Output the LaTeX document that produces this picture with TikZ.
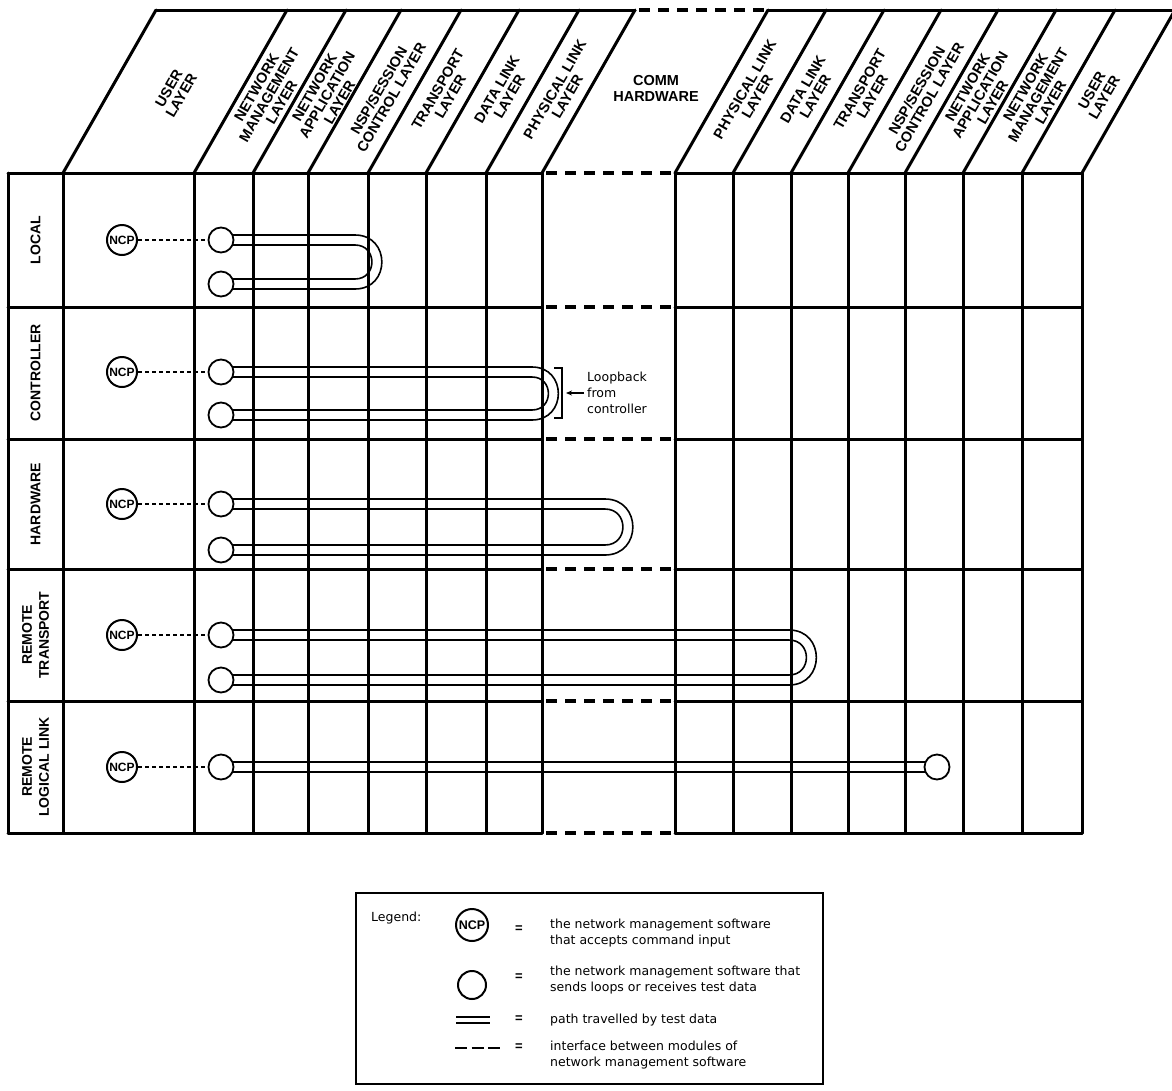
\documentclass[tikz,border=0pt]{standalone}
\usepackage{fontspec}
\setmainfont{Liberation Sans}
\newfontfamily\legfont{DejaVu Sans}
\usetikzlibrary{calc,arrows.meta}
\pgfdeclarelayer{gridlayer}
\pgfdeclarelayer{looplayer}
\pgfsetlayers{gridlayer,looplayer,main}
\tikzset{
  gridline/.style={line width=3pt, line cap=round},
  iface/.style={line width=3.5pt, dash pattern=on 11pt off 8pt, dash phase=15pt},
  loopline/.style={line width=1.6pt},
  hdr/.style={rotate=60, align=center, inner sep=0pt, font=\bfseries\fontsize{14.5}{14.5}\selectfont},
  hdrflat/.style={align=center, inner sep=0pt, font=\bfseries\fontsize{14.5}{16}\selectfont},
  rowlab/.style={rotate=90, align=center, inner sep=0pt, font=\bfseries\fontsize{14}{17}\selectfont},
  ncp/.style={circle, draw, line width=2pt, minimum size=30pt, inner sep=0pt, fill=white, font=\bfseries\fontsize{12}{12}\selectfont},
  term/.style={circle, draw, line width=1.8pt, minimum size=25pt, inner sep=0pt, fill=white},
  ncplink/.style={line width=1.5pt, dash pattern=on 4pt off 3pt},
  legtext/.style={align=left, inner sep=0pt, anchor=west, font=\legfont\fontsize{12.5}{16}\selectfont},
  eqsign/.style={inner sep=0pt, font=\bfseries\fontsize{13}{13}\selectfont},
  uturn/.style={out=0, in=0, looseness=1.7}
}
\begin{document}
\begin{tikzpicture}[x=1pt,y=-1pt]
\useasboundingbox (0,0) rectangle (1172,1090);

% ---------- grid ----------
\begin{pgfonlayer}{gridlayer}
\foreach \gx in {8,63,194,253,308,368,426,486,542,675,733,791,848,905,963,1022,1082}
  \draw[gridline] (\gx,173) -- (\gx,833);
\foreach \gy in {173,307,439,569,701,833} {
  \draw[gridline] (8,\gy) -- (542,\gy);
  \draw[iface] (542,\gy) -- (675,\gy);
  \draw[gridline] (675,\gy) -- (1082,\gy);
}
% header slants
\foreach \gx in {63,194,253,308,368,426,486,542,675,733,791,848,905,963,1022,1082}
  \draw[gridline] (\gx,173) -- ++(93,-163);
\draw[gridline] (156,10) -- (635,10);
\draw[iface] (635,10) -- (768,10);
\draw[gridline] (768,10) -- (1176,10);
\end{pgfonlayer}

% ---------- header labels ----------
\node[hdr] (hL1) at (175,92) {USER\\LAYER};
\node[hdr] (hL2) at (269,95) {NETWORK\\MANAGEMENT\\LAYER};
\node[hdr] (hL3) at (327,95) {NETWORK\\APPLICATION\\LAYER};
\node[hdr] (hL4) at (385,94) {NSP/SESSION\\CONTROL LAYER};
\node[hdr] (hL5) at (444,93) {TRANSPORT\\LAYER};
\node[hdr] (hL6) at (503,93) {DATA LINK\\LAYER};
\node[hdr] (hL7) at (561,93) {PHYSICAL LINK\\LAYER};
\node[hdrflat] (hC) at (656,88) {COMM\\HARDWARE};
\node[hdr] (hR7) at (751,93) {PHYSICAL LINK\\LAYER};
\node[hdr] (hR6) at (809,93) {DATA LINK\\LAYER};
\node[hdr] (hR5) at (866,93) {TRANSPORT\\LAYER};
\node[hdr] (hR4) at (923,94) {NSP/SESSION\\CONTROL LAYER};
\node[hdr] (hR3) at (980,95) {NETWORK\\APPLICATION\\LAYER};
\node[hdr] (hR2) at (1038,95) {NETWORK\\MANAGEMENT\\LAYER};
\node[hdr] (hR1) at (1098,94) {USER\\LAYER};

% ---------- row labels ----------
\node[rowlab] (r1) at (35.5,240) {LOCAL};
\node[rowlab] (r2) at (35.5,373) {CONTROLLER};
\node[rowlab] (r3) at (35.5,504) {HARDWARE};
\node[rowlab] (r4) at (35.5,635) {REMOTE\\TRANSPORT};
\node[rowlab] (r5) at (35.5,767) {REMOTE\\LOGICAL LINK};

% ---------- NCP and terminal circles ----------
\node[ncp] (n1) at (122,240) {NCP};
\node[ncp] (n2) at (122,372) {NCP};
\node[ncp] (n3) at (122,504) {NCP};
\node[ncp] (n4) at (122,635) {NCP};
\node[ncp] (n5) at (122,767) {NCP};

\node[term] (t1) at (221,240) {};
\node[term] (b1) at (221,284) {};
\node[term] (t2) at (221,372) {};
\node[term] (b2) at (221,415) {};
\node[term] (t3) at (221,504) {};
\node[term] (b3) at (221,550) {};
\node[term] (t4) at (221,635) {};
\node[term] (b4) at (221,680) {};
\node[term] (t5) at (221,767) {};
\node[term] (f5) at (937,767) {};

\coordinate (e1) at (355,262);
\coordinate (e2) at (532,393);
\coordinate (e3) at (605,527);
\coordinate (e4) at (789,657);

\foreach \na/\ta in {n1/t1,n2/t2,n3/t3,n4/t4,n5/t5}
  \draw[ncplink] (\na) -- (\ta);

% ---------- loops ----------
\begin{pgfonlayer}{looplayer}
\foreach \ta/\tb/\te in {t1/b1/e1,t2/b2/e2,t3/b3/e3,t4/b4/e4} {
  \draw[loopline] ($(\ta.center)+(0,-5)$) -- ($(\ta.center -| \te)+(0,-5)$)
     to[uturn] ($(\tb.center -| \te)+(0,5)$) -- ($(\tb.center)+(0,5)$);
  \draw[loopline] ($(\ta.center)+(0,5)$) -- ($(\ta.center -| \te)+(0,5)$)
     to[uturn] ($(\tb.center -| \te)+(0,-5)$) -- ($(\tb.center)+(0,-5)$);
}
\draw[loopline] ($(t5.center)+(0,-5)$) -- ($(f5.center)+(0,-5)$);
\draw[loopline] ($(t5.center)+(0,5)$) -- ($(f5.center)+(0,5)$);
\end{pgfonlayer}

% ---------- loopback annotation ----------
\coordinate (brT) at (554,368);
\coordinate (brB) at (554,418);
\draw[line width=1.4pt] (brT) -- ($(brT)+(8,0)$) -- ($(brB)+(8,0)$) -- (brB);
\node[legtext] (lb) at (587,393) {Loopback\\from\\controller};
\draw[line width=1.3pt, -{Stealth[length=6pt,width=5pt]}] ($(lb.west)+(-3,0)$) -- ($(brT)!0.5!(brB)+(12,0)$);

% ---------- legend ----------
\node[draw, line width=2pt, minimum width=467pt, minimum height=191pt, inner sep=0pt] (legbox) at (589.5,988.5) {};
\node[legtext] (leglab) at (371,918) {Legend:};
\node[ncp, minimum size=32pt, font=\bfseries\fontsize{12.5}{13}\selectfont] (legncp) at (472,925) {NCP};
\node[eqsign] (eq1) at (519,929) {=};
\node[legtext] (d1) at (550,933) {the network management software\\that accepts command input};
\node[term, minimum size=28pt, line width=2pt] (legterm) at (472,985) {};
\node[eqsign] (eq2) at (519,977) {=};
\node[legtext] (d2) at (550,980.5) {the network management software that\\sends loops or receives test data};
\coordinate (pl1) at (456,1020);
\coordinate (pl2) at (490,1020);
\draw[line width=2pt] ($(pl1)+(0,-3)$) -- ($(pl2)+(0,-3)$);
\draw[line width=2pt] ($(pl1)+(0,3)$) -- ($(pl2)+(0,3)$);
\node[eqsign] (eq3) at (519,1019) {=};
\node[legtext] (d3) at (550,1020) {path travelled by test data};
\coordinate (if1) at (455,1048);
\coordinate (if2) at (500,1048);
\draw[line width=2.5pt, dash pattern=on 12pt off 4.5pt] (if1) -- (if2);
\node[eqsign] (eq4) at (519,1047) {=};
\node[legtext] (d4) at (550,1055) {interface between modules of\\network management software};
\end{tikzpicture}
\end{document}
